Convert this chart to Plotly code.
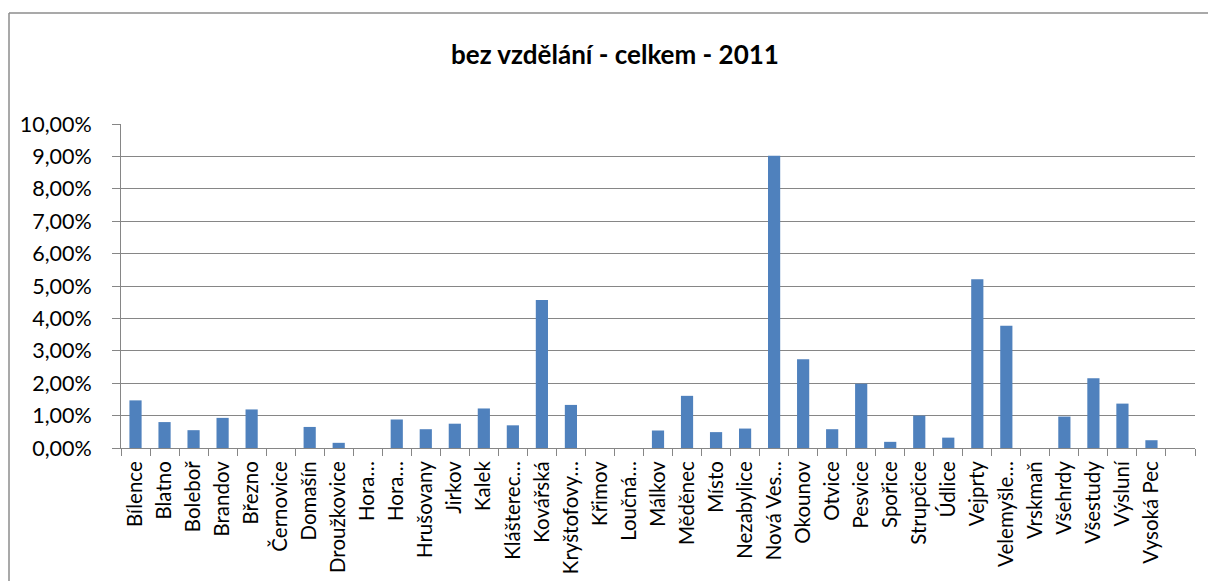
import plotly.graph_objects as go

categories = ["Bílence", "Blatno", "Boleboř", "Brandov", "Březno", "Černovice", "Domašín",
              "Droužkovice", "Hora…", "Hora…", "Hrušovany", "Jirkov", "Kalek", "Klášterec…",
              "Kovářská", "Kryštofovy…", "Křimov", "Loučná…", "Málkov", "Měděnec", "Místo",
              "Nezabylice", "Nová Ves…", "Okounov", "Otvice", "Pesvice", "Spořice", "Strupčice",
              "Údlice", "Vejprty", "Velemyšle…", "Vrskmaň", "Všehrdy", "Všestudy", "Výsluní",
              "Vysoká Pec", ""]
values = [0.0147, 0.0080, 0.0055, 0.0093, 0.0119, 0.0, 0.0065,
          0.0016, 0.0, 0.0088, 0.0058, 0.0075, 0.0122, 0.0070,
          0.0457, 0.0133, 0.0, 0.0, 0.0054, 0.0161, 0.0049,
          0.0060, 0.0902, 0.0274, 0.0058, 0.0198, 0.0019, 0.0100,
          0.0032, 0.0521, 0.0377, 0.0, 0.0097, 0.0215, 0.0137,
          0.0024, None]
title_text = "bez vzdělání - celkem - 2011"

positions = list(range(len(categories)))

FONT = "Lato"
W, H = 1208, 581
L, T = 121, 124
R = W - 1195
B = H - 448
pw, ph = W - L - R, H - T - B

fig = go.Figure()
fig.add_trace(go.Bar(x=positions, y=values, marker=dict(color="#4F81BD", line=dict(width=0)),
                     width=0.42, hoverinfo="skip"))

# outer chart border (left and top edges visible)
bx = (9 - L) / pw
by = (H - B - 13) / ph
bxr = (W - L) / pw
fig.add_shape(type="line", xref="paper", yref="paper", x0=bx, x1=bx, y0=by, y1=-B / ph,
              line=dict(color="#8c8c8c", width=1.5))
fig.add_shape(type="line", xref="paper", yref="paper", x0=bx, x1=bxr, y0=by, y1=by,
              line=dict(color="#8c8c8c", width=1.5))

fig.update_layout(
    width=W, height=H,
    margin=dict(l=L, r=R, t=T, b=B, autoexpand=False),
    paper_bgcolor="white", plot_bgcolor="white",
    separators=", ",
    showlegend=False,
    font=dict(family=FONT, color="#000000"),
    title=dict(text="<b>" + title_text + "</b>", x=615 / W, xanchor="center",
               y=1 - 55 / H, yanchor="middle", font=dict(size=26, family=FONT)),
    xaxis=dict(
        range=[-0.5, len(categories) - 0.5],
        tickmode="array", tickvals=positions, ticktext=categories,
        tickangle=-90, ticks="", tickfont=dict(size=20.5, family=FONT),
        showgrid=False, zeroline=False, automargin=False,
        showline=True, linecolor="#868686", linewidth=1,
        minor=dict(tick0=0.5, dtick=1, ticks="outside", ticklen=7,
                   tickcolor="#868686", tickwidth=1, showgrid=False),
        ticklabelstandoff=4,
    ),
    yaxis=dict(
        range=[0, 0.1], dtick=0.01, tick0=0, tickformat=".2%",
        ticks="outside", ticklen=8, tickcolor="#868686", tickwidth=1,
        tickfont=dict(size=21.5, family=FONT), automargin=False,
        showgrid=True, gridcolor="#868686", gridwidth=1,
        zeroline=False, showline=True, linecolor="#868686", linewidth=1,
        ticklabelstandoff=16,
    ),
)

fig.write_html(
    "out.html",
    config={"displayModeBar": False},
    post_script=("document.body.style.margin='0';document.body.style.overflow='hidden';"
                 "document.documentElement.style.overflow='hidden';"),
)
